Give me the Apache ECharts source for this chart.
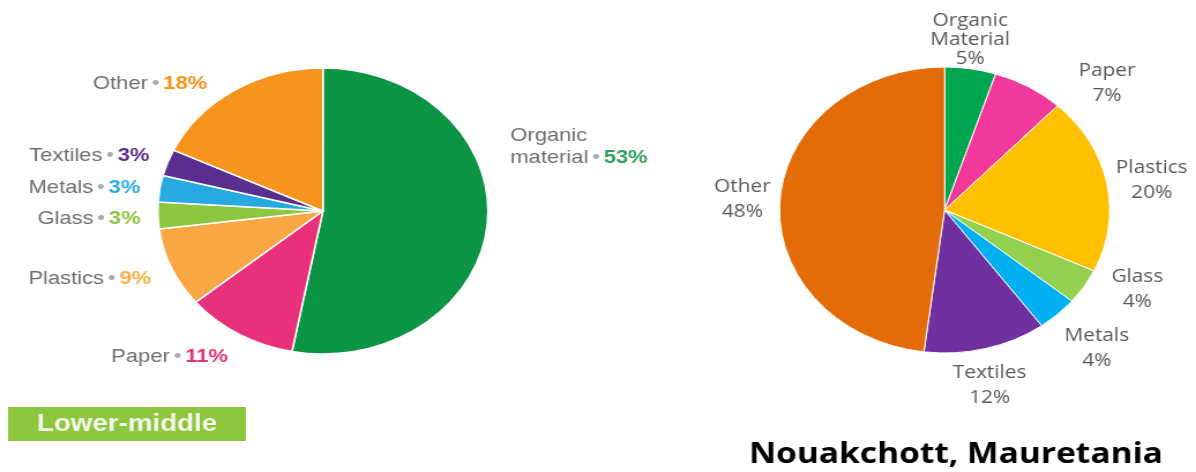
<!DOCTYPE html>
<html>
<head>
<meta charset="utf-8">
<script src="https://cdn.jsdelivr.net/npm/echarts@6/dist/echarts.min.js"></script>
<style>
  html, body { margin: 0; padding: 0; background: #fff; overflow: hidden; }
  #main { width: 1036px; height: 472px; transform: scaleX(1.1545); transform-origin: 0 0; }
</style>
</head>
<body>
<div id="main"></div>
<script>
// ---- Data: lower-middle income countries (left) ----
const leftNames  = ['Organic\nmaterial', 'Paper', 'Plastics', 'Glass', 'Metals', 'Textiles', 'Other'];
const leftValues = [53, 11, 9, 3, 3, 3, 18];
// ---- Data: Nouakchott, Mauretania (right) ----
const rightNames  = ['Organic\nMaterial', 'Paper', 'Plastics', 'Glass', 'Metals', 'Textiles', 'Other'];
const rightValues = [5, 7, 20, 4, 4, 12, 48];

const leftColors  = ['#0b9444', '#e8317a', '#faa843', '#8dc63f', '#27aae1', '#5a2e8f', '#f7941d'];
const leftPctColors = ['#2f9e5e', '#e6317a', '#f8ae4a', '#8dc63f', '#29abe2', '#5b2d8e', '#f7941d'];
const rightColors = ['#00a550', '#f0399a', '#ffc000', '#92d050', '#00b0f0', '#7030a0', '#e36c09'];

// label nudges (style only)
const leftNudge  = [[0, -78], [8, 18], [2, 9], [5, 3], [3, 0], [4, -5], [-6, -2]];
const rightNudge = [[-6, 8], [49, 28], [0, 5], [17, -16], [5, 3], [-5, 4], [0, 0]];
const rightGap = 8;

const chart = echarts.init(document.getElementById('main'));

const leftFont = 19;
const leftRich = {
  n: { color: '#6d6e71', fontSize: leftFont, fontFamily: 'Liberation Sans', lineHeight: 22 },
  dot: { color: '#a7a9ac', fontSize: leftFont, fontFamily: 'Liberation Sans', lineHeight: 22 }
};
leftPctColors.forEach((c, i) => {
  leftRich['p' + i] = { color: c, fontSize: leftFont, fontWeight: 'bold', fontFamily: 'Liberation Sans', lineHeight: 22 };
});

const leftData = leftNames.map((n, i) => ({ name: n, value: leftValues[i], itemStyle: { color: leftColors[i] } }));
const rightData = rightNames.map((n, i) => {
  const d = { name: n, value: rightValues[i], itemStyle: { color: rightColors[i] } };
  if (i === 0) d.label = { lineHeight: 19 };
  return d;
});

function rightLayout(params) {
  const pts = params.labelLinePoints;
  const r = params.labelRect;
  if (!pts) return {};
  const p0 = pts[0], p1 = pts[1];
  let ux = p1[0] - p0[0], uy = p1[1] - p0[1];
  const nn = Math.hypot(ux, uy) || 1; ux /= nn; uy /= nn;
  const hw = r.width / 2, hh = r.height / 2;
  const s = Math.min(Math.abs(ux) > 1e-6 ? hw / Math.abs(ux) : 1e9,
                     Math.abs(uy) > 1e-6 ? hh / Math.abs(uy) : 1e9);
  const nd = rightNudge[params.dataIndex] || [0, 0];
  return {
    x: p0[0] + ux * (rightGap + s) + nd[0],
    y: p0[1] + uy * (rightGap + s) + nd[1],
    align: 'center',
    verticalAlign: 'middle'
  };
}

const option = {
  backgroundColor: '#ffffff',
  animation: false,
  series: [
    {
      type: 'pie',
      center: [279.7, 211],
      radius: [0, 143],
      startAngle: 90,
      clockwise: true,
      avoidLabelOverlap: false,
      itemStyle: { borderColor: '#ffffff', borderWidth: 1.5 },
      label: {
        show: true,
        position: 'outside',
        formatter: p => `{n|${p.name}} {dot|•} {p${p.dataIndex}|${p.value}%}`,
        rich: leftRich
      },
      labelLine: { show: false, length: 5, length2: 10 },
      labelLayout: p => {
        const nd = leftNudge[p.dataIndex] || [0, 0];
        return { dx: nd[0], dy: nd[1] };
      },
      data: leftData
    },
    {
      type: 'pie',
      center: [818.2, 210],
      radius: [0, 143],
      startAngle: 90,
      clockwise: true,
      avoidLabelOverlap: false,
      itemStyle: { borderColor: '#ffffff', borderWidth: 1 },
      label: {
        show: true,
        position: 'outside',
        formatter: '{b}\n{c}%',
        color: '#595959',
        fontSize: 18,
        fontFamily: 'Open Sans',
        lineHeight: 25,
        align: 'center'
      },
      labelLine: { show: true, length: 10, length2: 0, lineStyle: { opacity: 0 } },
      labelLayout: rightLayout,
      data: rightData
    }
  ],
  graphic: [
    {
      type: 'rect',
      shape: { x: 7, y: 407, width: 206, height: 34 },
      style: { fill: '#8dc63f' }
    },
    {
      type: 'text',
      x: 110, y: 424,
      style: {
        text: 'Lower-middle',
        fill: '#f4fae9',
        font: 'bold 24px "Liberation Sans"',
        align: 'center',
        verticalAlign: 'middle'
      }
    },
    {
      type: 'text',
      x: 828, y: 455,
      style: {
        text: 'Nouakchott, Mauretania',
        fill: '#000000',
        font: 'bold 29px "Open Sans"',
        align: 'center',
        verticalAlign: 'middle'
      }
    }
  ]
};
chart.setOption(option);
</script>
</body>
</html>
